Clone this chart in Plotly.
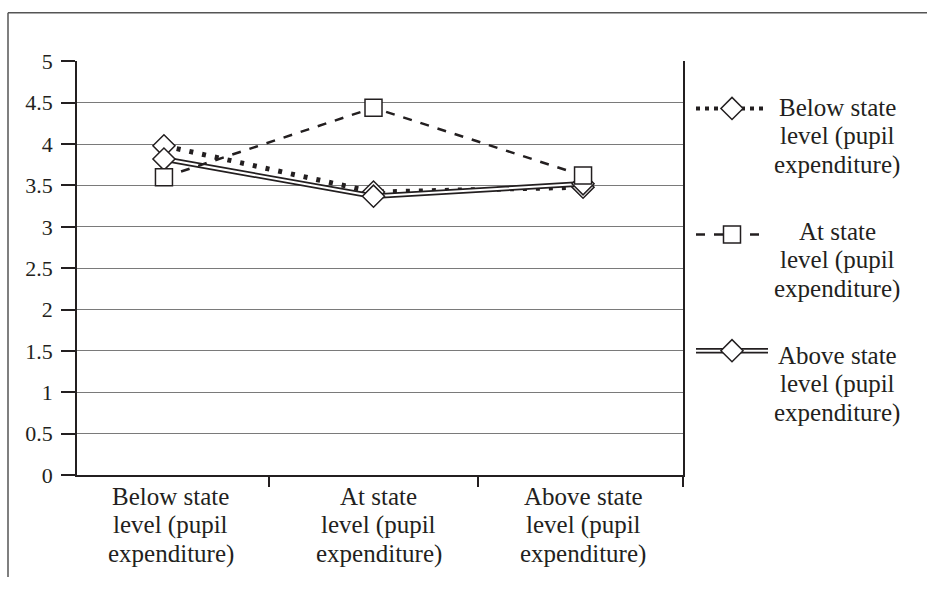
import plotly.graph_objects as go

# ---- data ----
category_lines = [["Below state", "level (pupil", "expenditure)"],
                  ["At state", "level (pupil", "expenditure)"],
                  ["Above state", "level (pupil", "expenditure)"]]
series_lines = [["Below state", "level (pupil", "expenditure)"],
                ["At state", "level (pupil", "expenditure)"],
                ["Above state", "level (pupil", "expenditure)"]]
below_vals = [3.98, 3.42, 3.48]
at_vals = [3.60, 4.44, 3.62]
above_vals = [3.82, 3.37, 3.52]
y_ticks = [0, 0.5, 1, 1.5, 2, 2.5, 3, 3.5, 4, 4.5, 5]

# ---- layout constants ----
W, H = 927, 590
# the viewer shows the page shifted/compressed vertically; map target rows
V_OFF, V_SCALE = 12.7, 0.9564


def row(px):
    return (px - V_OFF) / V_SCALE


PL, PR = 77, 683
PT, PB = row(62), row(475)
FONT = "Liberation Serif"
INK = "#231f20"
FS_NUM = 22
FS_TXT = 25
LINE_H = 28.5 / V_SCALE
X_MIN, X_MAX = -0.415, 2.477
CAT_SHIFT = [7, 5, 0]

xs = list(range(len(category_lines)))

fig = go.Figure()

# Below state: dotted line with open diamonds
fig.add_trace(go.Scatter(
    x=xs, y=below_vals, mode="lines+markers",
    line=dict(color=INK, width=5, dash="4px,9px"),
    marker=dict(symbol="diamond", size=17, color="white",
                line=dict(color=INK, width=1.5)),
    showlegend=False))
# Above state: double line
fig.add_trace(go.Scatter(
    x=xs, y=above_vals, mode="lines",
    line=dict(color=INK, width=5.5), showlegend=False))
fig.add_trace(go.Scatter(
    x=xs, y=above_vals, mode="lines+markers",
    line=dict(color="white", width=2),
    marker=dict(symbol="diamond", size=17, color="white",
                line=dict(color=INK, width=1.5)),
    showlegend=False))
# At state: dashed line with open squares
fig.add_trace(go.Scatter(
    x=xs, y=at_vals, mode="lines+markers",
    line=dict(color=INK, width=2.5, dash="9px,9px"),
    marker=dict(symbol="square", size=17, color="white",
                line=dict(color=INK, width=1.5)),
    showlegend=False))

# ---- custom legend on a pixel overlay axis ----
LEG_X0, LEG_XM, LEG_X1 = 696, 732, 768
LEG_SYM_Y = [row(109), row(235), row(351)]
LEG_TXT_TOP = [row(108), row(232), row(356)]
LEG_TXT_X = 837


def leg_line(y, line):
    fig.add_trace(go.Scatter(
        x=[LEG_X0, LEG_X1], y=[y, y], mode="lines", xaxis="x2", yaxis="y2",
        line=line, showlegend=False, hoverinfo="skip"))


def leg_marker(y, symbol):
    fig.add_trace(go.Scatter(
        x=[LEG_XM], y=[y], mode="markers", xaxis="x2", yaxis="y2",
        marker=dict(symbol=symbol, size=17, color="white",
                    line=dict(color=INK, width=1.5)),
        showlegend=False, hoverinfo="skip"))


leg_line(LEG_SYM_Y[0], dict(color=INK, width=4, dash="4px,5px"))
leg_marker(LEG_SYM_Y[0], "diamond")
leg_line(LEG_SYM_Y[1], dict(color=INK, width=2.5, dash="9px,9px"))
leg_marker(LEG_SYM_Y[1], "square")
leg_line(LEG_SYM_Y[2], dict(color=INK, width=5.5))
leg_line(LEG_SYM_Y[2], dict(color="white", width=2))
leg_marker(LEG_SYM_Y[2], "diamond")

annotations = []
for lines, ty in zip(series_lines, LEG_TXT_TOP):
    for k, txt in enumerate(lines):
        annotations.append(dict(x=LEG_TXT_X, y=ty + k * LINE_H,
                                xref="x2", yref="y2", text=txt,
                                showarrow=False, xanchor="center",
                                yanchor="middle",
                                font=dict(family=FONT, size=FS_TXT, color=INK)))

# category labels (one annotation per line, anchored to the x data axis)
CAT_TOP = row(497)
for i, lines in enumerate(category_lines):
    for k, txt in enumerate(lines):
        annotations.append(dict(x=xs[i], y=(H - (CAT_TOP + k * LINE_H)) / H,
                                xref="x", yref="paper", text=txt,
                                xshift=CAT_SHIFT[i],
                                showarrow=False, xanchor="center",
                                yanchor="middle",
                                font=dict(family=FONT, size=FS_TXT, color=INK)))

FRAME_TOP = 0.8
shapes = [
    dict(type="line", xref="x2", yref="y2", x0=8, y0=FRAME_TOP, x1=W, y1=FRAME_TOP,
         line=dict(color="#555", width=1.5)),
    dict(type="line", xref="x2", yref="y2", x0=8, y0=FRAME_TOP, x1=8, y1=H,
         line=dict(color="#555", width=1.5)),
]

fig.update_layout(
    width=W, height=H,
    margin=dict(l=0, r=0, t=0, b=0),
    paper_bgcolor="white", plot_bgcolor="rgba(0,0,0,0)",
    font=dict(family=FONT, size=FS_NUM, color=INK),
    showlegend=False,
    xaxis=dict(domain=[PL / W, PR / W], range=[X_MIN, X_MAX],
               tickmode="array", tickvals=xs,
               ticktext=["" for _ in xs],
               ticks="", showgrid=False, zeroline=False,
               showline=True, linecolor=INK, linewidth=1.5,
               minor=dict(tickmode="array",
                          tickvals=[i + 0.5 for i in xs[:-1]] + [X_MAX],
                          ticks="outside", ticklen=10, tickcolor=INK,
                          tickwidth=1.5, showgrid=False)),
    yaxis=dict(domain=[(H - PB) / H, (H - PT) / H], range=[0, 5.001],
               tickmode="array", tickvals=y_ticks,
               ticktext=[f"{v:g}" for v in y_ticks],
               ticks="outside", ticklen=14, tickcolor=INK, tickwidth=1.5,
               ticklabelstandoff=4,
               showgrid=True, gridcolor="#7a7a7a", gridwidth=1.3,
               zeroline=False, showline=True, linecolor=INK, linewidth=1.5,
               mirror=True,
               tickfont=dict(family=FONT, size=FS_NUM, color=INK)),
    xaxis2=dict(domain=[0, 1], range=[0, W], visible=False, anchor="y2"),
    yaxis2=dict(domain=[0, 1], range=[H, 0], visible=False, anchor="x2"),
    annotations=annotations,
    shapes=shapes,
)

POST = (
    "document.documentElement.style.margin='0';"
    "document.documentElement.style.overflow='hidden';"
    "document.body.style.margin='0';"
    "document.body.style.overflow='hidden';"
    "var g=document.querySelector('.plotly-graph-div');"
    "g.style.position='fixed';g.style.top='0';g.style.left='0';"
)

fig.write_html("out.html", config={"displayModeBar": False}, post_script=POST)
